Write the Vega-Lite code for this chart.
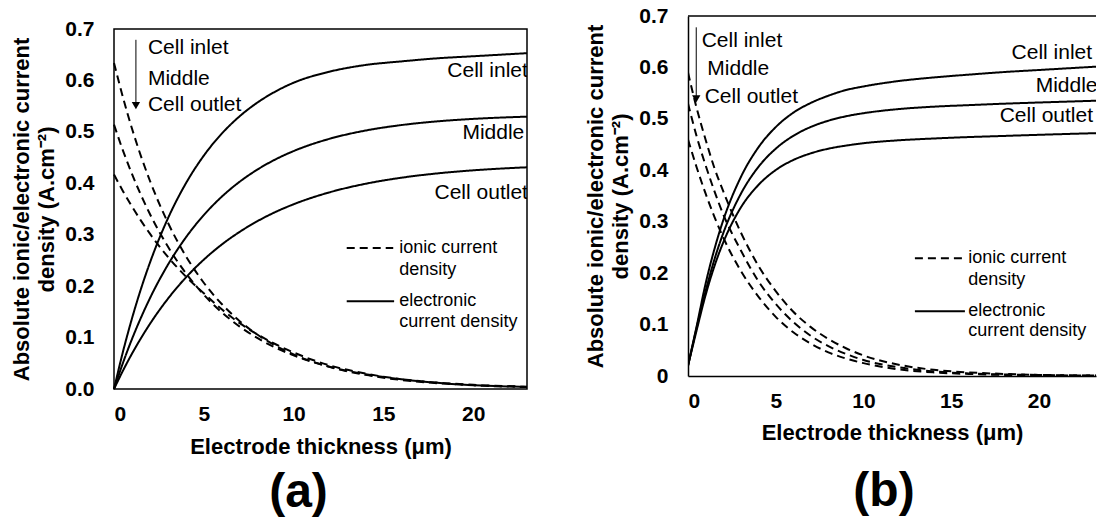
{
  "$schema": "https://vega.github.io/schema/vega-lite/v6.json",
  "background": "white",
  "padding": {"left": 10, "top": 5, "right": 0, "bottom": 0},
  "bounds": "flush",
  "spacing": 161,
  "config": {
    "view": {"stroke": null},
    "font": "Liberation Sans",
    "axis": {
      "labelFont": "Liberation Sans", "labelFontSize": 21, "labelFontWeight": "bold", "labelColor": "black",
      "titleFont": "Liberation Sans", "titleFontSize": 22, "titleFontWeight": "bold", "titleColor": "black",
      "ticks": false, "grid": false, "domainColor": "black", "domainWidth": 1.5
    },
    "text": {"font": "Liberation Sans", "fontSize": 21, "color": "black"}
  },
  "datasets": {
    "curves": [
      {"panel":"a","series":"inlet","type":"electronic","x":0,"y":0},
      {"panel":"a","series":"inlet","type":"electronic","x":0.5,"y":0.0726},
      {"panel":"a","series":"inlet","type":"electronic","x":1,"y":0.137},
      {"panel":"a","series":"inlet","type":"electronic","x":1.5,"y":0.1945},
      {"panel":"a","series":"inlet","type":"electronic","x":2,"y":0.2455},
      {"panel":"a","series":"inlet","type":"electronic","x":3,"y":0.3315},
      {"panel":"a","series":"inlet","type":"electronic","x":4,"y":0.3997},
      {"panel":"a","series":"inlet","type":"electronic","x":5,"y":0.4537},
      {"panel":"a","series":"inlet","type":"electronic","x":6,"y":0.4965},
      {"panel":"a","series":"inlet","type":"electronic","x":7,"y":0.5304},
      {"panel":"a","series":"inlet","type":"electronic","x":8,"y":0.5573},
      {"panel":"a","series":"inlet","type":"electronic","x":9,"y":0.5786},
      {"panel":"a","series":"inlet","type":"electronic","x":10,"y":0.5955},
      {"panel":"a","series":"inlet","type":"electronic","x":12,"y":0.617},
      {"panel":"a","series":"inlet","type":"electronic","x":14,"y":0.630},
      {"panel":"a","series":"inlet","type":"electronic","x":16,"y":0.637},
      {"panel":"a","series":"inlet","type":"electronic","x":18,"y":0.643},
      {"panel":"a","series":"inlet","type":"electronic","x":20,"y":0.647},
      {"panel":"a","series":"inlet","type":"electronic","x":23,"y":0.653},
      {"panel":"a","series":"middle","type":"electronic","x":0,"y":0},
      {"panel":"a","series":"middle","type":"electronic","x":0.5,"y":0.0509},
      {"panel":"a","series":"middle","type":"electronic","x":1,"y":0.097},
      {"panel":"a","series":"middle","type":"electronic","x":1.5,"y":0.1386},
      {"panel":"a","series":"middle","type":"electronic","x":2,"y":0.1764},
      {"panel":"a","series":"middle","type":"electronic","x":3,"y":0.2414},
      {"panel":"a","series":"middle","type":"electronic","x":4,"y":0.2946},
      {"panel":"a","series":"middle","type":"electronic","x":5,"y":0.3382},
      {"panel":"a","series":"middle","type":"electronic","x":6,"y":0.3739},
      {"panel":"a","series":"middle","type":"electronic","x":7,"y":0.4031},
      {"panel":"a","series":"middle","type":"electronic","x":8,"y":0.427},
      {"panel":"a","series":"middle","type":"electronic","x":9,"y":0.4466},
      {"panel":"a","series":"middle","type":"electronic","x":10,"y":0.4626},
      {"panel":"a","series":"middle","type":"electronic","x":12,"y":0.4865},
      {"panel":"a","series":"middle","type":"electronic","x":14,"y":0.5025},
      {"panel":"a","series":"middle","type":"electronic","x":16,"y":0.5132},
      {"panel":"a","series":"middle","type":"electronic","x":18,"y":0.5204},
      {"panel":"a","series":"middle","type":"electronic","x":20,"y":0.5252},
      {"panel":"a","series":"middle","type":"electronic","x":23,"y":0.5296},
      {"panel":"a","series":"outlet","type":"electronic","x":0,"y":0},
      {"panel":"a","series":"outlet","type":"electronic","x":0.5,"y":0.0357},
      {"panel":"a","series":"outlet","type":"electronic","x":1,"y":0.0686},
      {"panel":"a","series":"outlet","type":"electronic","x":1.5,"y":0.0987},
      {"panel":"a","series":"outlet","type":"electronic","x":2,"y":0.1265},
      {"panel":"a","series":"outlet","type":"electronic","x":3,"y":0.1754},
      {"panel":"a","series":"outlet","type":"electronic","x":4,"y":0.2167},
      {"panel":"a","series":"outlet","type":"electronic","x":5,"y":0.2515},
      {"panel":"a","series":"outlet","type":"electronic","x":6,"y":0.2809},
      {"panel":"a","series":"outlet","type":"electronic","x":7,"y":0.3056},
      {"panel":"a","series":"outlet","type":"electronic","x":8,"y":0.3266},
      {"panel":"a","series":"outlet","type":"electronic","x":9,"y":0.3443},
      {"panel":"a","series":"outlet","type":"electronic","x":10,"y":0.3592},
      {"panel":"a","series":"outlet","type":"electronic","x":12,"y":0.3824},
      {"panel":"a","series":"outlet","type":"electronic","x":14,"y":0.399},
      {"panel":"a","series":"outlet","type":"electronic","x":16,"y":0.4108},
      {"panel":"a","series":"outlet","type":"electronic","x":18,"y":0.4192},
      {"panel":"a","series":"outlet","type":"electronic","x":20,"y":0.4252},
      {"panel":"a","series":"outlet","type":"electronic","x":23,"y":0.4311},
      {"panel":"a","series":"inlet","type":"ionic","x":0,"y":0.634},
      {"panel":"a","series":"inlet","type":"ionic","x":0.5,"y":0.567},
      {"panel":"a","series":"inlet","type":"ionic","x":1,"y":0.5066},
      {"panel":"a","series":"inlet","type":"ionic","x":1.5,"y":0.4529},
      {"panel":"a","series":"inlet","type":"ionic","x":2,"y":0.4049},
      {"panel":"a","series":"inlet","type":"ionic","x":3,"y":0.3236},
      {"panel":"a","series":"inlet","type":"ionic","x":4,"y":0.2586},
      {"panel":"a","series":"inlet","type":"ionic","x":5,"y":0.2066},
      {"panel":"a","series":"inlet","type":"ionic","x":6,"y":0.1652},
      {"panel":"a","series":"inlet","type":"ionic","x":7,"y":0.1319},
      {"panel":"a","series":"inlet","type":"ionic","x":8,"y":0.1054},
      {"panel":"a","series":"inlet","type":"ionic","x":9,"y":0.0843},
      {"panel":"a","series":"inlet","type":"ionic","x":10,"y":0.0673},
      {"panel":"a","series":"inlet","type":"ionic","x":12,"y":0.043},
      {"panel":"a","series":"inlet","type":"ionic","x":14,"y":0.0275},
      {"panel":"a","series":"inlet","type":"ionic","x":16,"y":0.0175},
      {"panel":"a","series":"inlet","type":"ionic","x":18,"y":0.0112},
      {"panel":"a","series":"inlet","type":"ionic","x":20,"y":0.0072},
      {"panel":"a","series":"inlet","type":"ionic","x":23,"y":0.0037},
      {"panel":"a","series":"middle","type":"ionic","x":0,"y":0.514},
      {"panel":"a","series":"middle","type":"ionic","x":0.5,"y":0.4636},
      {"panel":"a","series":"middle","type":"ionic","x":1,"y":0.4182},
      {"panel":"a","series":"middle","type":"ionic","x":1.5,"y":0.3773},
      {"panel":"a","series":"middle","type":"ionic","x":2,"y":0.3403},
      {"panel":"a","series":"middle","type":"ionic","x":3,"y":0.2769},
      {"panel":"a","series":"middle","type":"ionic","x":4,"y":0.2253},
      {"panel":"a","series":"middle","type":"ionic","x":5,"y":0.1833},
      {"panel":"a","series":"middle","type":"ionic","x":6,"y":0.1492},
      {"panel":"a","series":"middle","type":"ionic","x":7,"y":0.1214},
      {"panel":"a","series":"middle","type":"ionic","x":8,"y":0.0988},
      {"panel":"a","series":"middle","type":"ionic","x":9,"y":0.0803},
      {"panel":"a","series":"middle","type":"ionic","x":10,"y":0.0654},
      {"panel":"a","series":"middle","type":"ionic","x":12,"y":0.0433},
      {"panel":"a","series":"middle","type":"ionic","x":14,"y":0.0286},
      {"panel":"a","series":"middle","type":"ionic","x":16,"y":0.019},
      {"panel":"a","series":"middle","type":"ionic","x":18,"y":0.0126},
      {"panel":"a","series":"middle","type":"ionic","x":20,"y":0.0083},
      {"panel":"a","series":"middle","type":"ionic","x":23,"y":0.0045},
      {"panel":"a","series":"outlet","type":"ionic","x":0,"y":0.417},
      {"panel":"a","series":"outlet","type":"ionic","x":0.5,"y":0.3847},
      {"panel":"a","series":"outlet","type":"ionic","x":1,"y":0.3549},
      {"panel":"a","series":"outlet","type":"ionic","x":1.5,"y":0.3274},
      {"panel":"a","series":"outlet","type":"ionic","x":2,"y":0.302},
      {"panel":"a","series":"outlet","type":"ionic","x":3,"y":0.257},
      {"panel":"a","series":"outlet","type":"ionic","x":4,"y":0.2188},
      {"panel":"a","series":"outlet","type":"ionic","x":5,"y":0.1862},
      {"panel":"a","series":"outlet","type":"ionic","x":6,"y":0.155},
      {"panel":"a","series":"outlet","type":"ionic","x":7,"y":0.128},
      {"panel":"a","series":"outlet","type":"ionic","x":8,"y":0.106},
      {"panel":"a","series":"outlet","type":"ionic","x":9,"y":0.087},
      {"panel":"a","series":"outlet","type":"ionic","x":10,"y":0.071},
      {"panel":"a","series":"outlet","type":"ionic","x":12,"y":0.046},
      {"panel":"a","series":"outlet","type":"ionic","x":14,"y":0.03},
      {"panel":"a","series":"outlet","type":"ionic","x":16,"y":0.019},
      {"panel":"a","series":"outlet","type":"ionic","x":18,"y":0.012},
      {"panel":"a","series":"outlet","type":"ionic","x":20,"y":0.0075},
      {"panel":"a","series":"outlet","type":"ionic","x":23,"y":0.004},
      {"panel":"b","series":"inlet","type":"electronic","x":0,"y":0.02},
      {"panel":"b","series":"inlet","type":"electronic","x":0.5,"y":0.098},
      {"panel":"b","series":"inlet","type":"electronic","x":1,"y":0.179},
      {"panel":"b","series":"inlet","type":"electronic","x":1.5,"y":0.246},
      {"panel":"b","series":"inlet","type":"electronic","x":2,"y":0.302},
      {"panel":"b","series":"inlet","type":"electronic","x":3,"y":0.386},
      {"panel":"b","series":"inlet","type":"electronic","x":4,"y":0.444},
      {"panel":"b","series":"inlet","type":"electronic","x":5,"y":0.484},
      {"panel":"b","series":"inlet","type":"electronic","x":6,"y":0.512},
      {"panel":"b","series":"inlet","type":"electronic","x":7,"y":0.531},
      {"panel":"b","series":"inlet","type":"electronic","x":8,"y":0.545},
      {"panel":"b","series":"inlet","type":"electronic","x":9,"y":0.556},
      {"panel":"b","series":"inlet","type":"electronic","x":10,"y":0.563},
      {"panel":"b","series":"inlet","type":"electronic","x":12,"y":0.5735},
      {"panel":"b","series":"inlet","type":"electronic","x":14,"y":0.5805},
      {"panel":"b","series":"inlet","type":"electronic","x":16,"y":0.586},
      {"panel":"b","series":"inlet","type":"electronic","x":18,"y":0.591},
      {"panel":"b","series":"inlet","type":"electronic","x":20,"y":0.595},
      {"panel":"b","series":"inlet","type":"electronic","x":23,"y":0.601},
      {"panel":"b","series":"inlet","type":"electronic","x":23.5,"y":0.602},
      {"panel":"b","series":"middle","type":"electronic","x":0,"y":0.02},
      {"panel":"b","series":"middle","type":"electronic","x":0.5,"y":0.095},
      {"panel":"b","series":"middle","type":"electronic","x":1,"y":0.1645},
      {"panel":"b","series":"middle","type":"electronic","x":1.5,"y":0.226},
      {"panel":"b","series":"middle","type":"electronic","x":2,"y":0.277},
      {"panel":"b","series":"middle","type":"electronic","x":3,"y":0.3535},
      {"panel":"b","series":"middle","type":"electronic","x":4,"y":0.406},
      {"panel":"b","series":"middle","type":"electronic","x":5,"y":0.442},
      {"panel":"b","series":"middle","type":"electronic","x":6,"y":0.467},
      {"panel":"b","series":"middle","type":"electronic","x":7,"y":0.4843},
      {"panel":"b","series":"middle","type":"electronic","x":8,"y":0.4964},
      {"panel":"b","series":"middle","type":"electronic","x":9,"y":0.505},
      {"panel":"b","series":"middle","type":"electronic","x":10,"y":0.511},
      {"panel":"b","series":"middle","type":"electronic","x":12,"y":0.519},
      {"panel":"b","series":"middle","type":"electronic","x":14,"y":0.5237},
      {"panel":"b","series":"middle","type":"electronic","x":16,"y":0.5267},
      {"panel":"b","series":"middle","type":"electronic","x":18,"y":0.5295},
      {"panel":"b","series":"middle","type":"electronic","x":20,"y":0.5318},
      {"panel":"b","series":"middle","type":"electronic","x":23,"y":0.535},
      {"panel":"b","series":"middle","type":"electronic","x":23.5,"y":0.5355},
      {"panel":"b","series":"outlet","type":"electronic","x":0,"y":0.02},
      {"panel":"b","series":"outlet","type":"electronic","x":0.5,"y":0.09},
      {"panel":"b","series":"outlet","type":"electronic","x":1,"y":0.157},
      {"panel":"b","series":"outlet","type":"electronic","x":1.5,"y":0.213},
      {"panel":"b","series":"outlet","type":"electronic","x":2,"y":0.259},
      {"panel":"b","series":"outlet","type":"electronic","x":3,"y":0.327},
      {"panel":"b","series":"outlet","type":"electronic","x":4,"y":0.371},
      {"panel":"b","series":"outlet","type":"electronic","x":5,"y":0.4005},
      {"panel":"b","series":"outlet","type":"electronic","x":6,"y":0.420},
      {"panel":"b","series":"outlet","type":"electronic","x":7,"y":0.433},
      {"panel":"b","series":"outlet","type":"electronic","x":8,"y":0.442},
      {"panel":"b","series":"outlet","type":"electronic","x":9,"y":0.448},
      {"panel":"b","series":"outlet","type":"electronic","x":10,"y":0.4526},
      {"panel":"b","series":"outlet","type":"electronic","x":12,"y":0.4583},
      {"panel":"b","series":"outlet","type":"electronic","x":14,"y":0.4618},
      {"panel":"b","series":"outlet","type":"electronic","x":16,"y":0.4646},
      {"panel":"b","series":"outlet","type":"electronic","x":18,"y":0.4668},
      {"panel":"b","series":"outlet","type":"electronic","x":20,"y":0.469},
      {"panel":"b","series":"outlet","type":"electronic","x":23,"y":0.472},
      {"panel":"b","series":"outlet","type":"electronic","x":23.5,"y":0.4725},
      {"panel":"b","series":"inlet","type":"ionic","x":0,"y":0.59},
      {"panel":"b","series":"inlet","type":"ionic","x":0.5,"y":0.52},
      {"panel":"b","series":"inlet","type":"ionic","x":1,"y":0.46},
      {"panel":"b","series":"inlet","type":"ionic","x":1.5,"y":0.405},
      {"panel":"b","series":"inlet","type":"ionic","x":2,"y":0.36},
      {"panel":"b","series":"inlet","type":"ionic","x":3,"y":0.28},
      {"panel":"b","series":"inlet","type":"ionic","x":4,"y":0.215},
      {"panel":"b","series":"inlet","type":"ionic","x":5,"y":0.165},
      {"panel":"b","series":"inlet","type":"ionic","x":6,"y":0.125},
      {"panel":"b","series":"inlet","type":"ionic","x":7,"y":0.095},
      {"panel":"b","series":"inlet","type":"ionic","x":8,"y":0.072},
      {"panel":"b","series":"inlet","type":"ionic","x":9,"y":0.054},
      {"panel":"b","series":"inlet","type":"ionic","x":10,"y":0.04},
      {"panel":"b","series":"inlet","type":"ionic","x":12,"y":0.022},
      {"panel":"b","series":"inlet","type":"ionic","x":14,"y":0.012},
      {"panel":"b","series":"inlet","type":"ionic","x":16,"y":0.007},
      {"panel":"b","series":"inlet","type":"ionic","x":18,"y":0.004},
      {"panel":"b","series":"inlet","type":"ionic","x":20,"y":0.002},
      {"panel":"b","series":"inlet","type":"ionic","x":23,"y":0.001},
      {"panel":"b","series":"inlet","type":"ionic","x":23.5,"y":0.001},
      {"panel":"b","series":"middle","type":"ionic","x":0,"y":0.53},
      {"panel":"b","series":"middle","type":"ionic","x":0.5,"y":0.465},
      {"panel":"b","series":"middle","type":"ionic","x":1,"y":0.41},
      {"panel":"b","series":"middle","type":"ionic","x":1.5,"y":0.36},
      {"panel":"b","series":"middle","type":"ionic","x":2,"y":0.315},
      {"panel":"b","series":"middle","type":"ionic","x":3,"y":0.245},
      {"panel":"b","series":"middle","type":"ionic","x":4,"y":0.185},
      {"panel":"b","series":"middle","type":"ionic","x":5,"y":0.14},
      {"panel":"b","series":"middle","type":"ionic","x":6,"y":0.105},
      {"panel":"b","series":"middle","type":"ionic","x":7,"y":0.078},
      {"panel":"b","series":"middle","type":"ionic","x":8,"y":0.058},
      {"panel":"b","series":"middle","type":"ionic","x":9,"y":0.043},
      {"panel":"b","series":"middle","type":"ionic","x":10,"y":0.031},
      {"panel":"b","series":"middle","type":"ionic","x":12,"y":0.017},
      {"panel":"b","series":"middle","type":"ionic","x":14,"y":0.009},
      {"panel":"b","series":"middle","type":"ionic","x":16,"y":0.005},
      {"panel":"b","series":"middle","type":"ionic","x":18,"y":0.003},
      {"panel":"b","series":"middle","type":"ionic","x":20,"y":0.002},
      {"panel":"b","series":"middle","type":"ionic","x":23,"y":0.001},
      {"panel":"b","series":"middle","type":"ionic","x":23.5,"y":0.001},
      {"panel":"b","series":"outlet","type":"ionic","x":0,"y":0.46},
      {"panel":"b","series":"outlet","type":"ionic","x":0.5,"y":0.405},
      {"panel":"b","series":"outlet","type":"ionic","x":1,"y":0.355},
      {"panel":"b","series":"outlet","type":"ionic","x":1.5,"y":0.31},
      {"panel":"b","series":"outlet","type":"ionic","x":2,"y":0.27},
      {"panel":"b","series":"outlet","type":"ionic","x":3,"y":0.205},
      {"panel":"b","series":"outlet","type":"ionic","x":4,"y":0.155},
      {"panel":"b","series":"outlet","type":"ionic","x":5,"y":0.115},
      {"panel":"b","series":"outlet","type":"ionic","x":6,"y":0.085},
      {"panel":"b","series":"outlet","type":"ionic","x":7,"y":0.063},
      {"panel":"b","series":"outlet","type":"ionic","x":8,"y":0.046},
      {"panel":"b","series":"outlet","type":"ionic","x":9,"y":0.034},
      {"panel":"b","series":"outlet","type":"ionic","x":10,"y":0.025},
      {"panel":"b","series":"outlet","type":"ionic","x":12,"y":0.013},
      {"panel":"b","series":"outlet","type":"ionic","x":14,"y":0.007},
      {"panel":"b","series":"outlet","type":"ionic","x":16,"y":0.004},
      {"panel":"b","series":"outlet","type":"ionic","x":18,"y":0.002},
      {"panel":"b","series":"outlet","type":"ionic","x":20,"y":0.001},
      {"panel":"b","series":"outlet","type":"ionic","x":23,"y":0.0005},
      {"panel":"b","series":"outlet","type":"ionic","x":23.5,"y":0.0005}
    ],
    "labels": [
      {"panel":"a","group":"top","text":"Cell inlet","x":1.89,"y":0.663},
      {"panel":"a","group":"top","text":"Middle","x":1.89,"y":0.603},
      {"panel":"a","group":"top","text":"Cell outlet","x":1.89,"y":0.5515},
      {"panel":"a","group":"end","text":"Cell inlet","x":23.05,"y":0.618},
      {"panel":"a","group":"end","text":"Middle","x":22.85,"y":0.498},
      {"panel":"a","group":"end","text":"Cell outlet","x":23.05,"y":0.381},
      {"panel":"a","group":"legend","text":"ionic current","x":15.89,"y":0.274},
      {"panel":"a","group":"legend","text":"density","x":15.89,"y":0.231},
      {"panel":"a","group":"legend","text":"electronic","x":15.89,"y":0.171},
      {"panel":"a","group":"legend","text":"current density","x":15.89,"y":0.130},
      {"panel":"b","group":"top","text":"Cell inlet","x":0.78,"y":0.652},
      {"panel":"b","group":"top","text":"Middle","x":1.10,"y":0.5975},
      {"panel":"b","group":"top","text":"Cell outlet","x":0.95,"y":0.5425},
      {"panel":"b","group":"end","text":"Cell inlet","x":18.44,"y":0.628},
      {"panel":"b","group":"end","text":"Middle","x":19.81,"y":0.563},
      {"panel":"b","group":"end","text":"Cell outlet","x":17.76,"y":0.506},
      {"panel":"b","group":"legend","text":"ionic current","x":15.97,"y":0.229},
      {"panel":"b","group":"legend","text":"density","x":15.97,"y":0.187},
      {"panel":"b","group":"legend","text":"electronic","x":15.97,"y":0.126},
      {"panel":"b","group":"legend","text":"current density","x":15.97,"y":0.087}
    ],
    "keys": [
      {"panel":"a","type":"ionic","x":12.96,"x2":15.55,"y":0.274},
      {"panel":"a","type":"electronic","x":12.96,"x2":15.6,"y":0.1705},
      {"panel":"b","type":"ionic","x":12.93,"x2":15.78,"y":0.229},
      {"panel":"b","type":"electronic","x":12.93,"x2":15.78,"y":0.126}
    ],
    "arrows": [
      {"panel":"a","x":1.22,"y":0.679,"y2":0.551},
      {"panel":"b","x":0.47,"y":0.678,"y2":0.539}
    ]
  },
  "hconcat": [
    {
      "width": 413,
      "height": 373,
      "title": {"text": "(a)", "orient": "bottom", "frame": "group", "fontSize": 48, "fontWeight": "bold", "font": "Liberation Sans", "color": "black", "dx": -22, "offset": 12},
      "encoding": {
        "x": {"type": "quantitative", "scale": {"domain": [0, 23], "nice": false, "zero": false},
              "axis": {"values": [0, 5, 10, 15, 20], "domain": false, "labelPadding": 14, "title": "Electrode thickness (μm)", "titlePadding": 12}},
        "y": {"type": "quantitative", "scale": {"domain": [0, 0.72528], "nice": false, "zero": false},
              "axis": {"values": [0, 0.1, 0.2, 0.3, 0.4, 0.5, 0.6, 0.7], "format": ".1f", "domain": false, "labelPadding": 20,
                       "title": ["Absolute ionic/electronic current", "density (A.cm⁻²)"], "titlePadding": 6, "titleLineHeight": 25, "titleY": 193}}
      },
      "layer": [
        {
          "data": {"values": [{}]},
          "mark": {"type": "rect", "fill": "transparent", "stroke": "black", "strokeWidth": 1.5},
          "encoding": {"x": {"datum": 0}, "x2": {"datum": 23}, "y": {"datum": 0}, "y2": {"datum": 0.7}}
        },
        {
          "data": {"name": "curves"},
          "transform": [{"filter": "datum.panel === 'a'"}],
          "mark": {"type": "line", "color": "black", "strokeWidth": 2, "interpolate": "monotone"},
          "encoding": {
            "x": {"field": "x"},
            "y": {"field": "y"},
            "detail": {"field": "series", "type": "nominal"},
            "strokeDash": {"field": "type", "type": "nominal", "scale": {"domain": ["ionic", "electronic"], "range": [[8, 5], [1, 0]]}, "legend": null}
          }
        },
        {
          "data": {"name": "keys"},
          "transform": [{"filter": "datum.panel === 'a'"}],
          "mark": {"type": "rule", "color": "black", "strokeWidth": 2},
          "encoding": {
            "x": {"field": "x"}, "x2": {"field": "x2"}, "y": {"field": "y"},
            "strokeDash": {"field": "type", "type": "nominal", "scale": {"domain": ["ionic", "electronic"], "range": [[8, 5], [1, 0]]}, "legend": null}
          }
        },
        {
          "data": {"name": "arrows"},
          "transform": [{"filter": "datum.panel === 'a'"}],
          "mark": {"type": "rule", "color": "black", "strokeWidth": 1},
          "encoding": {"x": {"field": "x"}, "y": {"field": "y"}, "y2": {"field": "y2"}}
        },
        {
          "data": {"name": "arrows"},
          "transform": [{"filter": "datum.panel === 'a'"}],
          "mark": {"type": "point", "shape": "triangle-down", "filled": true, "color": "black", "size": 70, "opacity": 1},
          "encoding": {"x": {"field": "x"}, "y": {"field": "y2"}}
        },
        {
          "data": {"name": "labels"},
          "transform": [{"filter": "datum.panel === 'a' && datum.group === 'top'"}],
          "mark": {"type": "text", "align": "left", "baseline": "middle", "fontSize": 21},
          "encoding": {"x": {"field": "x"}, "y": {"field": "y"}, "text": {"field": "text"}}
        },
        {
          "data": {"name": "labels"},
          "transform": [{"filter": "datum.panel === 'a' && datum.group === 'end'"}],
          "mark": {"type": "text", "align": "right", "baseline": "middle", "fontSize": 21, "clip": true},
          "encoding": {"x": {"field": "x"}, "y": {"field": "y"}, "text": {"field": "text"}}
        },
        {
          "data": {"name": "labels"},
          "transform": [{"filter": "datum.panel === 'a' && datum.group === 'legend'"}],
          "mark": {"type": "text", "align": "left", "baseline": "middle", "fontSize": 18},
          "encoding": {"x": {"field": "x"}, "y": {"field": "y"}, "text": {"field": "text"}}
        }
      ]
    },
    {
      "width": 408,
      "height": 360,
      "title": {"text": "(b)", "orient": "bottom", "frame": "group", "fontSize": 48, "fontWeight": "bold", "font": "Liberation Sans", "color": "black", "dx": -8, "offset": 25},
      "encoding": {
        "x": {"type": "quantitative", "scale": {"domain": [0, 23.25], "nice": false, "zero": false},
              "axis": {"values": [0, 5, 10, 15, 20], "labelPadding": 14, "title": "Electrode thickness (μm)", "titlePadding": 11}},
        "y": {"type": "quantitative", "scale": {"domain": [0, 0.7], "nice": false, "zero": false},
              "axis": {"values": [0, 0.1, 0.2, 0.3, 0.4, 0.5, 0.6, 0.7], "labelExpr": "datum.value === 0 ? '0' : format(datum.value, '.1f')", "labelPadding": 20,
                       "title": ["Absolute ionic/electronic current", "density (A.cm⁻²)"], "titlePadding": 6, "titleLineHeight": 25}}
      },
      "layer": [
        {
          "data": {"values": [{}]},
          "mark": {"type": "rule", "color": "black", "strokeWidth": 1.5},
          "encoding": {"x": {"datum": 0}, "x2": {"datum": 23.25}, "y": {"datum": 0.7}}
        },
        {
          "data": {"name": "curves"},
          "transform": [{"filter": "datum.panel === 'b'"}],
          "mark": {"type": "line", "color": "black", "strokeWidth": 2, "interpolate": "monotone", "clip": true},
          "encoding": {
            "x": {"field": "x"},
            "y": {"field": "y"},
            "detail": {"field": "series", "type": "nominal"},
            "strokeDash": {"field": "type", "type": "nominal", "scale": {"domain": ["ionic", "electronic"], "range": [[8, 5], [1, 0]]}, "legend": null}
          }
        },
        {
          "data": {"name": "keys"},
          "transform": [{"filter": "datum.panel === 'b'"}],
          "mark": {"type": "rule", "color": "black", "strokeWidth": 2},
          "encoding": {
            "x": {"field": "x"}, "x2": {"field": "x2"}, "y": {"field": "y"},
            "strokeDash": {"field": "type", "type": "nominal", "scale": {"domain": ["ionic", "electronic"], "range": [[8, 5], [1, 0]]}, "legend": null}
          }
        },
        {
          "data": {"name": "arrows"},
          "transform": [{"filter": "datum.panel === 'b'"}],
          "mark": {"type": "rule", "color": "black", "strokeWidth": 1},
          "encoding": {"x": {"field": "x"}, "y": {"field": "y"}, "y2": {"field": "y2"}}
        },
        {
          "data": {"name": "arrows"},
          "transform": [{"filter": "datum.panel === 'b'"}],
          "mark": {"type": "point", "shape": "triangle-down", "filled": true, "color": "black", "size": 70, "opacity": 1},
          "encoding": {"x": {"field": "x"}, "y": {"field": "y2"}}
        },
        {
          "data": {"name": "labels"},
          "transform": [{"filter": "datum.panel === 'b' && datum.group !== 'legend'"}],
          "mark": {"type": "text", "align": "left", "baseline": "middle", "fontSize": 21, "clip": true},
          "encoding": {"x": {"field": "x"}, "y": {"field": "y"}, "text": {"field": "text"}}
        },
        {
          "data": {"name": "labels"},
          "transform": [{"filter": "datum.panel === 'b' && datum.group === 'legend'"}],
          "mark": {"type": "text", "align": "left", "baseline": "middle", "fontSize": 18},
          "encoding": {"x": {"field": "x"}, "y": {"field": "y"}, "text": {"field": "text"}}
        }
      ]
    }
  ]
}
